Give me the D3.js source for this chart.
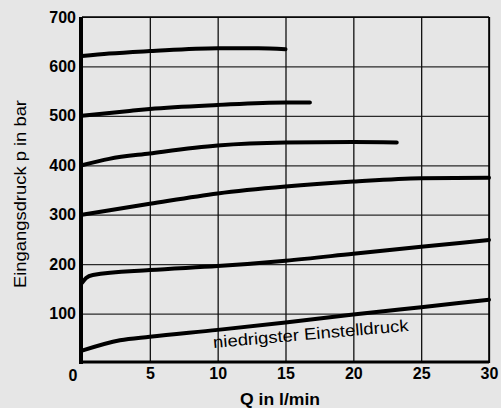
<!DOCTYPE html>
<html><head><meta charset="utf-8">
<script src="https://cdn.jsdelivr.net/npm/d3@7"></script>
<style>
html,body{margin:0;padding:0;background:#e6e6e6;}
svg{display:block;}
</style></head>
<body>
<svg id="chart" width="501" height="408"></svg>
<script>
// Data: Q in l/min vs Eingangsdruck p in bar
const xTicks = [5, 10, 15, 20, 25, 30];
const yTicks = [100, 200, 300, 400, 500, 600, 700];
const curve1 = [[0,621],[2,626],[5,631],[10,637],[13,637],[15,635]];
const curve2 = [[0,500],[3.5,510],[5,514],[10,522],[15,527],[16.8,527]];
const curve3 = [[0,400],[2,413],[5,424],[10,440],[15,446],[20,447],[23.2,446]];
const curve4 = [[0,300],[5,322],[10,343],[15,357],[20,367],[25,374],[30,375]];
const curve5 = [[0,162],[0.3,172],[0.8,178],[5,188],[10,196],[15,207],[20,221],[25,235],[30,249]];
const curve6 = [[0,25],[2.8,46],[5,53],[10,67],[15,82],[20,98],[25,113],[30,128]];
const curves = [curve1, curve2, curve3, curve4, curve5, curve6];
const annotation = {text: "niedrigster Einstelldruck", q: 9.7, p: 10};

const svg = d3.select("#chart");
const x = d3.scaleLinear().domain([0, 30]).range([82, 489]);
const y = d3.scaleLinear().domain([0, 700]).range([363, 17]);
const W = x(30) - x(0), H = y(0) - y(700);

svg.append("rect").attr("width", 501).attr("height", 408).attr("fill", "#e6e6e6");

// Horizontal grid + y tick labels
const gy = svg.append("g").attr("transform", `translate(${x(0)},0)`)
  .call(d3.axisLeft(y).tickValues(yTicks).tickSize(-W).tickPadding(6).tickFormat(d3.format("d")));
gy.select(".domain").remove();
gy.selectAll(".tick line").attr("stroke", "#2a2a2a").attr("stroke-width", 1.2);
gy.selectAll(".tick text").attr("font-family", "Liberation Sans, Arial, sans-serif")
  .attr("font-size", 16).attr("font-weight", "bold").attr("fill", "#000");

// Vertical grid + x tick labels
const gx = svg.append("g").attr("transform", `translate(0,${y(0)})`)
  .call(d3.axisBottom(x).tickValues(xTicks).tickSize(-H).tickPadding(5).tickFormat(d3.format("d")));
gx.select(".domain").remove();
gx.selectAll(".tick line").attr("stroke", "#111").attr("stroke-width", 1.3);
gx.selectAll(".tick text").attr("font-family", "Liberation Sans, Arial, sans-serif")
  .attr("font-size", 16).attr("font-weight", "bold").attr("fill", "#000");

// Origin label
svg.append("text").attr("x", x(0) - 9).attr("y", y(0) + 18)
  .attr("text-anchor", "middle")
  .attr("font-family", "Liberation Sans, Arial, sans-serif")
  .attr("font-size", 16).attr("font-weight", "bold").text("0");

// Frame: top and right thin, left and bottom thick
svg.append("line").attr("x1", x(0)).attr("x2", x(30)).attr("y1", y(700)).attr("y2", y(700))
  .attr("stroke", "#000").attr("stroke-width", 1.6);
svg.append("line").attr("x1", x(30)).attr("x2", x(30)).attr("y1", y(700)).attr("y2", y(0))
  .attr("stroke", "#000").attr("stroke-width", 1.6);
svg.append("line").attr("x1", x(0) - 1).attr("x2", x(0) - 1).attr("y1", y(700)).attr("y2", y(0) + 1)
  .attr("stroke", "#000").attr("stroke-width", 4);
svg.append("line").attr("x1", x(0) - 3).attr("x2", x(30)).attr("y1", y(0) - 1).attr("y2", y(0) - 1)
  .attr("stroke", "#000").attr("stroke-width", 3);

// Curves
const line = d3.line().x(d => x(d[0])).y(d => y(d[1])).curve(d3.curveMonotoneX);
svg.append("g").selectAll("path").data(curves).join("path")
  .attr("d", line).attr("fill", "none").attr("stroke", "#000")
  .attr("stroke-width", 4).attr("stroke-linecap", "round").attr("stroke-linejoin", "round");

// Annotation
svg.append("text")
  .attr("transform", `translate(${x(annotation.q)},${y(0) - 15}) rotate(-5)`)
  .attr("font-family", "Liberation Sans, Arial, sans-serif")
  .attr("font-size", 16.5).attr("textLength", 196).attr("lengthAdjust", "spacingAndGlyphs")
  .text(annotation.text);

// Axis titles
svg.append("text").attr("x", 280).attr("y", 405).attr("text-anchor", "middle")
  .attr("font-family", "Liberation Sans, Arial, sans-serif")
  .attr("font-size", 17).attr("font-weight", "bold").attr("textLength", 80)
  .attr("lengthAdjust", "spacingAndGlyphs").text("Q in l/min");
svg.append("text").attr("transform", "translate(26,194) rotate(-90)")
  .attr("text-anchor", "middle")
  .attr("font-family", "Liberation Sans, Arial, sans-serif")
  .attr("font-size", 17).attr("textLength", 188).attr("lengthAdjust", "spacingAndGlyphs")
  .text("Eingangsdruck p in bar");
</script>
</body></html>
